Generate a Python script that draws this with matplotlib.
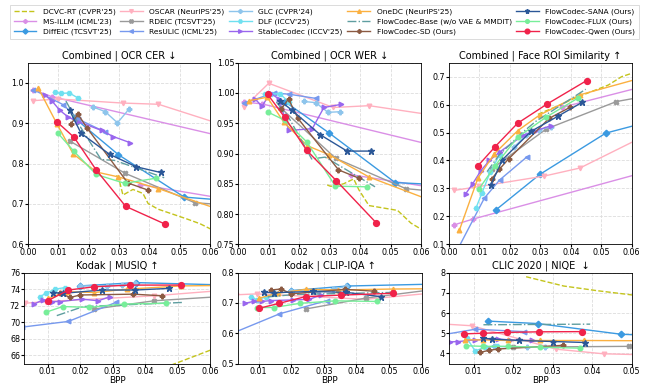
import numpy as np
import matplotlib
matplotlib.use('Agg')
from matplotlib import pyplot as plt

nan = np.nan

# method -> (label, color, marker, linestyle)
METHODS = [
    ('DCVC-RT', "DCVC-RT (CVPR'25)", '#c4c41c', None, '--'),
    ('MS-ILLM', "MS-ILLM (ICML'23)", '#da8fe6', 'P', '-'),
    ('DiffEIC', "DiffEIC (TCSVT'25)", '#3b9ae1', 'D', '-'),
    ('OSCAR', "OSCAR (NeurIPS'25)", '#ffb0bf', 'v', '-'),
    ('RDEIC', "RDEIC (TCSVT'25)", '#9a9a9a', 'X', '-'),
    ('ResULIC', "ResULIC (ICML'25)", '#7799ee', '<', '-'),
    ('GLC', "GLC (CVPR'24)", '#8ec5ec', 'P', '-'),
    ('DLF', "DLF (ICCV'25)", '#6fe0f0', 'H', '-'),
    ('StableCodec', "StableCodec (ICCV'25)", '#9966ee', '>', '-'),
    ('OneDC', "OneDC (NeurIPS'25)", '#fbb040', '^', '-'),
    ('Base', "FlowCodec-Base (w/o VAE & MMDiT)", '#5f9ea0', None, '-.'),
    ('SD', "FlowCodec-SD (Ours)", '#8b5a42', 'P', '-'),
    ('SANA', "FlowCodec-SANA (Ours)", '#2b5797', '*', '-'),
    ('FLUX', "FlowCodec-FLUX (Ours)", '#77ee99', 'o', '-'),
    ('Qwen', "FlowCodec-Qwen (Ours)", '#f0224a', 'o', '-'),
]

# ---- Combined set: bpp + three metrics ----
COMB_BPP = {
    'DCVC-RT': [0.0292, 0.0302, 0.0313, 0.0346, 0.0379, 0.0396, 0.0429, 0.0523, 0.0567, 0.065],
    'MS-ILLM': [0.0018, 0.0078, 0.075, nan, 0.037, 0.075],
    'DiffEIC': [0.0155, 0.0298, 0.0515, 0.08],
    'OSCAR': [0.0018, 0.010, 0.0312, 0.043, 0.075],
    'RDEIC': [0.014, 0.032, 0.055, 0.08],
    'ResULIC': [0.0018, 0.0116, 0.0166, 0.0255],
    'GLC': [0.0215, 0.0254, 0.0295, 0.0334],
    'DLF': [0.0089, 0.0108, 0.0136, 0.0166],
    'StableCodec': [0.0055, 0.0078, 0.0105, 0.0133, 0.0166, 0.0243, 0.0281, 0.0336],
    'OneDC': [0.0034, 0.0095, 0.0149, 0.0226, 0.0298, 0.043, 0.075],
    'Base': [0.0125, 0.0165, 0.0241, 0.0285, 0.0449],
    'SD': [0.0141, 0.0165, 0.0196, 0.0329, 0.0397],
    'SANA': [0.0137, 0.0175, 0.0269, 0.0357, 0.0437],
    'FLUX': [0.0099, 0.0152, 0.0225, 0.0319, 0.0423],
    'Qwen': [0.0096, 0.0152, 0.0225, 0.0322, 0.0452],
}
CER = {
    'DCVC-RT': [0.771, 0.755, 0.722, 0.736, 0.726, 0.701, 0.687, 0.663, 0.651, 0.62],
    'MS-ILLM': [0.983, 0.966, 0.848, nan, 0.748, 0.70],
    'DiffEIC': [0.912, 0.822, 0.717, 0.70],
    'OSCAR': [0.956, 0.960, 0.950, 0.947, 0.870],
    'RDEIC': [0.855, 0.776, 0.703, 0.69],
    'ResULIC': [0.983, 0.946, 0.91, 0.878],
    'GLC': [0.940, 0.929, 0.901, 0.936],
    'DLF': [0.977, 0.974, 0.975, 0.962],
    'StableCodec': [0.970, 0.956, 0.932, 0.915, 0.904, 0.882, 0.867, 0.852],
    'OneDC': [0.987, 0.899, 0.824, 0.779, 0.767, 0.738, 0.655],
    'Base': [0.955, 0.90, 0.81, 0.808, 0.765],
    'SD': [0.898, 0.922, 0.887, 0.752, 0.734],
    'SANA': [0.932, 0.875, 0.823, 0.792, 0.778],
    'FLUX': [0.875, 0.830, 0.773, 0.751, 0.764],
    'Qwen': [0.903, 0.865, 0.784, 0.694, 0.650],
}
WER = {
    'DCVC-RT': [0.848, 0.846, 0.846, 0.850, 0.858, 0.84, 0.814, 0.806, 0.785, 0.76],
    'MS-ILLM': [0.985, 0.982, 0.90, nan, 0.865, 0.835],
    'DiffEIC': [0.985, 0.934, 0.852, 0.845],
    'OSCAR': [0.976, 1.016, 0.976, 0.979, 0.955],
    'RDEIC': [0.975, 0.892, 0.842, 0.83],
    'ResULIC': [0.983, 1.0, 0.998, 0.991],
    'GLC': [0.986, 0.984, 0.968, 0.969],
    'DLF': [0.999, 0.998, 0.999, 0.985],
    'StableCodec': [0.990, 0.978, 1.0, 0.99, 0.938, 0.941, 0.976, 0.981],
    'OneDC': [0.987, 0.993, 0.952, 0.913, 0.898, 0.861, 0.80],
    'Base': [0.985, 0.96, 0.891, 0.894, 0.845],
    'SD': [0.974, 0.990, 0.958, 0.873, 0.859],
    'SANA': [0.987, 0.972, 0.931, 0.904, 0.904],
    'FLUX': [0.968, 0.955, 0.919, 0.846, 0.845],
    'Qwen': [0.998, 0.960, 0.905, 0.855, 0.786],
}
FACE = {
    'DCVC-RT': [0.565, 0.57, 0.575, 0.59, 0.605, 0.615, 0.63, 0.67, 0.70, 0.73],
    'MS-ILLM': [0.17, 0.19, 0.39, nan, 0.59, 0.696],
    'DiffEIC': [0.224, 0.35, 0.498, 0.58],
    'OSCAR': [0.293, 0.307, 0.344, 0.373, 0.546],
    'RDEIC': [0.370, 0.513, 0.611, 0.66],
    'ResULIC': [0.06, 0.265, 0.33, 0.412],
    'GLC': [0.45, 0.49, 0.51, 0.52],
    'DLF': [0.231, 0.283, 0.36, 0.42],
    'StableCodec': [0.281, 0.317, 0.364, 0.40, 0.43, 0.49, 0.505, 0.525],
    'OneDC': [0.150, 0.337, 0.424, 0.507, 0.563, 0.635, 0.731],
    'Base': [0.36, 0.42, 0.50, 0.54, 0.655],
    'SD': [0.335, 0.368, 0.406, 0.551, 0.590],
    'SANA': [0.311, 0.402, 0.504, 0.558, 0.608],
    'FLUX': [0.299, 0.382, 0.483, 0.555, 0.623],
    'Qwen': [0.382, 0.450, 0.533, 0.602, 0.686],
}

# ---- Kodak ----
KODAK_BPP = {
    'DCVC-RT': [0.048, 0.06, 0.07],
    'DiffEIC': [0.02, 0.0372, 0.075],
    'OSCAR': [0.003, 0.0095, 0.0428, 0.075],
    'RDEIC': [0.0244, 0.0428, 0.075],
    'ResULIC': [0.002, 0.0164, 0.031],
    'GLC': [0.020, 0.0282, 0.0328, 0.0369],
    'DLF': [0.0076, 0.0095, 0.0123, 0.0153],
    'StableCodec': [0.0058, 0.0085, 0.0112, 0.0138, 0.0205, 0.0256, 0.0292],
    'OneDC': [0.0102, 0.0158, 0.0244, 0.0343, 0.0511, 0.075],
    'Base': [0.0128, 0.021, 0.0518],
    'SD': [0.0138, 0.0169, 0.02, 0.0364, 0.0453],
    'SANA': [0.0117, 0.0146, 0.0268, 0.0369, 0.0474],
    'FLUX': [0.0094, 0.0146, 0.0228, 0.0335, 0.0463],
    'Qwen': [0.01, 0.0164, 0.0244, 0.0354, 0.0511],
}
MUSIQ = {
    'DCVC-RT': [64.8, 66.6, 67.8],
    'DiffEIC': [74.4, 74.8, 74.4],
    'OSCAR': [72.3, 72.5, 73.2, 74.2],
    'RDEIC': [71.6, 72.6, 73.4],
    'ResULIC': [69.4, 70.1, 72.4],
    'GLC': [74.4, 74.4, 74.5, 74.8],
    'DLF': [73.1, 73.5, 74.0, 74.2],
    'StableCodec': [72.2, 72.7, 72.5, 72.5, 72.8, 72.6, 73.1],
    'OneDC': [72.9, 73.7, 73.6, 74.0, 74.4, 74.5],
    'Base': [70.8, 71.9, 72.4],
    'SD': [73.5, 73.0, 73.3, 73.4, 73.2],
    'SANA': [73.6, 73.5, 73.9, 73.9, 74.1],
    'FLUX': [71.2, 71.9, 71.8, 72.2, 72.3],
    'Qwen': [72.6, 73.9, 74.3, 74.5, 74.5],
}
CLIPIQA = {
    'DiffEIC': [0.741, 0.756, 0.765],
    'OSCAR': [0.727, 0.73, 0.712, 0.745],
    'RDEIC': [0.68, 0.716, 0.76],
    'ResULIC': [0.60, 0.664, 0.708],
    'GLC': [0.741, 0.74, 0.745, 0.755],
    'DLF': [0.721, 0.71, 0.72, 0.73],
    'StableCodec': [0.699, 0.705, 0.705, 0.708, 0.71, 0.712, 0.727],
    'OneDC': [0.716, 0.732, 0.745, 0.743, 0.746, 0.748],
    'Base': [0.72, 0.728, 0.735],
    'SD': [0.743, 0.746, 0.73, 0.745, 0.739],
    'SANA': [0.735, 0.734, 0.738, 0.735, 0.721],
    'FLUX': [0.685, 0.685, 0.699, 0.707, 0.705],
    'Qwen': [0.682, 0.699, 0.721, 0.726, 0.732],
}

# ---- CLIC 2020 ----
CLIC_BPP = {
    'DCVC-RT': [0.0233, 0.0328, 0.0412, 0.05, 0.06],
    'DiffEIC': [0.0137, 0.0262, 0.0473, 0.06],
    'Base': [0.0125, 0.0395],
    'Qwen': [0.0077, 0.0125, 0.0184, 0.0265, 0.0374],
    'ResULIC': [0.003, 0.0105, 0.0227],
    'OSCAR': [0.003, 0.0096, 0.0309, 0.0429, 0.06],
    'SANA': [0.0125, 0.0146, 0.0216, 0.0301, 0.0383],
    'OneDC': [0.0079, 0.0125, 0.0186, 0.0267, 0.038, 0.06],
    'StableCodec': [0.0041, 0.0062, 0.0104, 0.0163, 0.0193, 0.0248],
    'RDEIC': [0.0201, 0.0492, 0.06],
    'FLUX': [0.0081, 0.0125, 0.0186, 0.0267, 0.0368],
    'SD': [0.0117, 0.0138, 0.0163, 0.0326],
    'DLF': [0.0083, 0.0104, 0.0128, 0.016],
    'GLC': [0.0152, 0.0235, 0.028],
}
NIQE = {
    'DCVC-RT': [7.80, 7.34, 7.11, 6.9, 6.7],
    'DiffEIC': [5.60, 5.48, 4.95, 4.85],
    'Base': [5.42, 5.45],
    'Qwen': [4.97, 5.0, 5.04, 5.07, 5.08],
    'ResULIC': [4.95, 5.2, 5.08],
    'OSCAR': [5.45, 5.37, 4.21, 3.98, 3.9],
    'SANA': [4.76, 4.71, 4.64, 4.59, 4.54],
    'OneDC': [4.67, 4.67, 4.64, 4.64, 4.64, 4.62],
    'StableCodec': [4.57, 4.59, 4.67, 4.71, 4.67, 4.64],
    'RDEIC': [4.31, 4.35, 4.36],
    'FLUX': [4.38, 4.35, 4.35, 4.31, 4.26],
    'SD': [4.05, 4.15, 4.22, 4.40],
    'DLF': [4.76, 4.12, 4.30, 4.35],
    'GLC': [4.35, 4.31, 4.33],
}

PANELS = [
    # (rect in px: left, top, right, bottom), title, bpp, values, xlim, ylim, yticks, yfmt
    ((28, 62.7, 210, 244.3), 'Combined | OCR CER \u2193', COMB_BPP, CER, (0, 0.06), (0.6, 1.05),
     [0.6, 0.7, 0.8, 0.9, 1.0], '%.1f'),
    ((238.3, 62.7, 421, 244.3), 'Combined | OCR WER \u2193', COMB_BPP, WER, (0, 0.06), (0.75, 1.05),
     np.arange(0.75, 1.051, 0.05), '%.2f'),
    ((449, 62.7, 631.7, 244.3), 'Combined | Face ROI Similarity \u2191', COMB_BPP, FACE, (0, 0.06), (0.1, 0.75),
     np.arange(0.1, 0.71, 0.1), '%.1f'),
    ((24, 272.7, 210, 363.5), 'Kodak | MUSIQ \u2191', KODAK_BPP, MUSIQ, (0.0027, 0.06), (65, 76),
     [66, 68, 70, 72, 74, 76], '%d'),
    ((237.7, 272.7, 421.7, 363.5), 'Kodak | CLIP-IQA \u2191', KODAK_BPP, CLIPIQA, (0.0036, 0.06), (0.5, 0.8),
     [0.5, 0.6, 0.7, 0.8], '%.1f'),
    ((449, 272.7, 631.7, 363.5), 'CLIC 2020 | NIQE  \u2193', CLIC_BPP, NIQE, (0.0038, 0.05), (3.5, 8),
     [4, 5, 6, 7, 8], '%d'),
]

W, H = 649, 385
fig = plt.figure(figsize=(W / 100, H / 100), dpi=100)

handles = {}
for i, (rect, title, bpp, vals, xlim, ylim, yticks, yfmt) in enumerate(PANELS):
    l, t, r, b = rect
    ax = fig.add_axes([l / W, 1 - b / H, (r - l) / W, (b - t) / H])
    for key, label, color, marker, ls in METHODS:
        if key not in vals:
            continue
        ms = 4.2 if key == 'Qwen' else (4.5 if marker == '*' else 3.3)
        line, = ax.plot(bpp[key], vals[key], color=color, marker=marker, ls=ls,
                        lw=1.0, ms=ms, label=label, zorder=3 if key == 'Qwen' else 2)
        handles.setdefault(key, line)
    ax.set_xlim(*xlim)
    ax.set_ylim(*ylim)
    ax.set_yticks(yticks)
    ax.yaxis.set_major_formatter(matplotlib.ticker.FormatStrFormatter(yfmt))
    if i < 3:
        ax.set_xticks(np.arange(0, 0.061, 0.01))
    else:
        top = 0.061 if i < 5 else 0.051
        ax.set_xticks(np.arange(0.01, top, 0.01))
        ax.set_xlabel('BPP', fontsize=6.4, labelpad=0)
    ax.xaxis.set_major_formatter(matplotlib.ticker.FormatStrFormatter('%.2f'))
    ax.set_title(title, fontsize=7, pad=3)
    ax.tick_params(labelsize=5.8, length=2, pad=0.8)
    ax.grid(True, color='#dddddd', ls='--', lw=0.6)
    ax.set_axisbelow(True)
    for s in ax.spines.values():
        s.set_linewidth(0.6)

# legend from the methods list
hs, labels = [], []
for key, label, color, marker, ls in METHODS:
    if key not in handles:
        handles[key] = plt.Line2D([], [], color=color, marker=marker, ls=ls)
    hs.append(handles[key])
    labels.append(label)
leg = fig.legend(hs, labels, loc='upper center', bbox_to_anchor=(0.5, 0.998), ncol=5,
                 fontsize=5.4, frameon=True, handlelength=3.0, columnspacing=0.6,
                 handletextpad=0.9, borderpad=0.5, labelspacing=0.45, fancybox=False,
                 markerscale=0.8)
leg.get_frame().set_edgecolor('#cccccc')
leg.get_frame().set_linewidth(0.6)

fig.savefig('out.png', dpi=100)
